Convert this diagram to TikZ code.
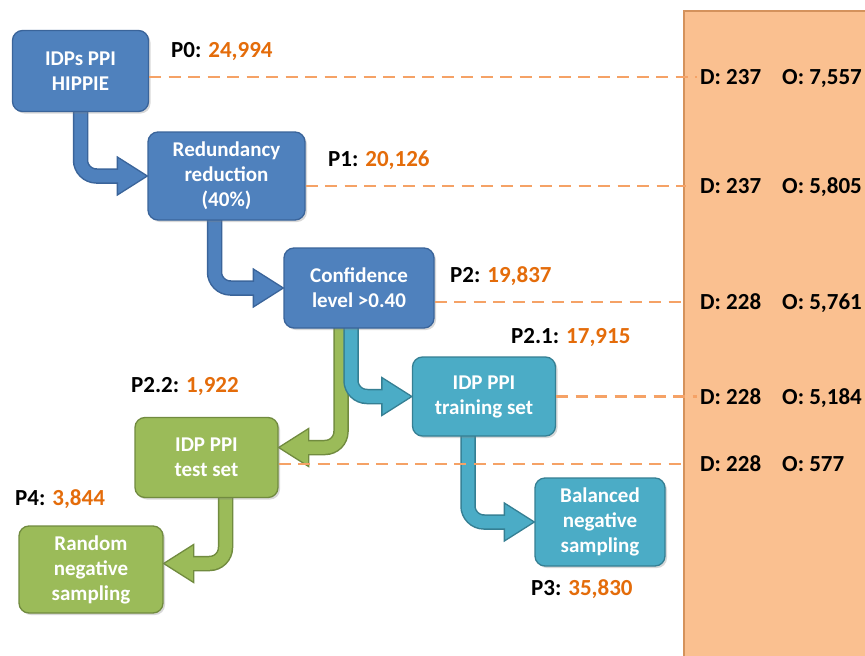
\documentclass[tikz,border=0pt]{standalone}
\usepackage{fontspec}
\setmainfont{Carlito}
\usetikzlibrary{shadows}
\definecolor{bfill}{HTML}{4F81BD}
\definecolor{bline}{HTML}{3A649A}
\definecolor{tfill}{HTML}{4BACC6}
\definecolor{tline}{HTML}{357F93}
\definecolor{gfill}{HTML}{9BBB59}
\definecolor{gline}{HTML}{718B3F}
\definecolor{numor}{HTML}{E46C0A}
\definecolor{dashcol}{HTML}{F5A266}
\definecolor{panelfill}{HTML}{FAC090}
\definecolor{panelline}{HTML}{D4925C}
\pgfdeclarelayer{bg}
\pgfsetlayers{bg,main}
\newcommand\bentarrow[5]{%
  \draw[line width=15.5pt, #2, rounded corners=16pt] (#3) |- ([xshift=#5]#4);
  \filldraw[fill=#1, draw=#2, line width=1.3pt, line join=miter]
    ([xshift=#5, yshift=19pt]#4) -- (#4) -- ([xshift=#5, yshift=-19pt]#4) -- cycle;
  \draw[line width=12.5pt, #1, rounded corners=16pt] (#3) |- ([xshift={0.88*(#5)}]#4);
}
\begin{document}
\begin{tikzpicture}[x=1pt,y=-1pt,
  box/.style={rounded corners=10pt, draw, line width=1.3pt, text=white,
    font=\fontsize{21}{25}\selectfont\bfseries, align=center, inner sep=0pt,
    drop shadow={opacity=0.3, shadow xshift=2pt, shadow yshift=-2pt}},
  bluebox/.style={box, fill=bfill, draw=bline},
  tealbox/.style={box, fill=tfill, draw=tline},
  greenbox/.style={box, fill=gfill, draw=gline},
  lbl/.style={font=\fontsize{23}{27}\selectfont\bfseries, inner sep=0pt, anchor=base west},
  rlbl/.style={font=\fontsize{23}{27}\selectfont\bfseries, inner sep=0pt, anchor=base west},
  dline/.style={draw=dashcol, line width=2.8pt, dash pattern=on 12pt off 7.5pt}]
\useasboundingbox (0,0) rectangle (865,656);
\coordinate (pl) at (684,0);
\coordinate (dx) at (700,0);
\coordinate (ox) at (782,0);

% boxes
\node[bluebox, minimum width=136pt, minimum height=81pt] (hippie) at (80.5,71) {IDPs PPI\\HIPPIE};
\node[bluebox, minimum width=157pt, minimum height=88pt] (redund) at (226.5,176) {Redundancy\\reduction\\(40\%)};
\node[bluebox, minimum width=150pt, minimum height=80pt] (conf) at (359,288) {Confidence\\level >0.40};
\node[tealbox, minimum width=143pt, minimum height=79pt] (train) at (484,396.5) {IDP PPI\\training set};
\node[greenbox, minimum width=143pt, minimum height=80pt] (test) at (206.5,457.5) {IDP PPI\\test set};
\node[tealbox, minimum width=130pt, minimum height=88pt] (bal) at (600,522) {Balanced\\negative\\sampling};
\node[greenbox, minimum width=144pt, minimum height=87pt] (rand) at (91,569.5) {Random\\negative\\sampling};

% arrow end points
\coordinate (s1) at ([yshift=3pt]hippie.south);
\coordinate (s2) at ([xshift=-12pt,yshift=3pt]redund.south);
\coordinate (s3) at ([xshift=-18pt,yshift=3pt]conf.south);
\coordinate (s4) at ([xshift=-8pt,yshift=3pt]conf.south);
\coordinate (s5) at ([xshift=-16pt,yshift=3pt]train.south);
\coordinate (s6) at ([xshift=19pt,yshift=3pt]test.south);
\coordinate (t3) at ([yshift=10pt]test.east);
\coordinate (t6) at ([yshift=6pt]rand.east);

% panel and arrows
\begin{pgfonlayer}{bg}
\begin{scope}
\clip (0,0) rectangle (865,656);
\fill[white] (0,0) rectangle (865,656);
\filldraw[fill=panelfill, draw=panelline, line width=1.5pt] (684,11) rectangle (900,700);
\end{scope}
\bentarrow{bfill}{bline}{s1}{redund.west}{-30pt}
\bentarrow{bfill}{bline}{s2}{conf.west}{-30pt}
\bentarrow{gfill}{gline}{s3}{t3}{30pt}
\bentarrow{tfill}{tline}{s4}{train.west}{-30pt}
\bentarrow{tfill}{tline}{s5}{bal.west}{-30pt}
\bentarrow{gfill}{gline}{s6}{t6}{30pt}
\end{pgfonlayer}

% dashed links
\coordinate (h0) at ([yshift=-6pt]hippie.east);
\coordinate (h1) at ([yshift=-10pt]redund.east);
\coordinate (h2) at ([yshift=-14pt]conf.east);
\coordinate (h3) at (train.east);
\coordinate (h4) at ([yshift=-6.5pt]test.east);
\draw[dline] (h0) -- ([xshift=-3pt]h0 -| dx);
\draw[dline] (h1) -- ([xshift=2pt]h1 -| pl);
\draw[dline] (h2) -- ([xshift=2pt]h2 -| pl);
\draw[dline] (h3) -- ([xshift=-3pt]h3 -| dx);
\draw[dline] (h4) -- ([xshift=2pt]h4 -| pl);

% right labels
\node[rlbl] (d0) at ([yshift=-7.5pt]h0 -| dx) {D: 237};
\node[rlbl] (o0) at ([yshift=-7.5pt]h0 -| ox) {O: 7,557};
\node[rlbl] (d1) at ([yshift=-7.5pt]h1 -| dx) {D: 237};
\node[rlbl] (o1) at ([yshift=-7.5pt]h1 -| ox) {O: 5,805};
\node[rlbl] (d2) at ([yshift=-7.5pt]h2 -| dx) {D: 228};
\node[rlbl] (o2) at ([yshift=-7.5pt]h2 -| ox) {O: 5,761};
\node[rlbl] (d3) at ([yshift=-7.5pt]h3 -| dx) {D: 228};
\node[rlbl] (o3) at ([yshift=-7.5pt]h3 -| ox) {O: 5,184};
\node[rlbl] (d4) at ([yshift=-7.5pt]h4 -| dx) {D: 228};
\node[rlbl] (o4) at ([yshift=-7.5pt]h4 -| ox) {O: 577};

% count labels
\node[lbl] (p0) at (171,57) {P0: \textcolor{numor}{24,994}};
\node[lbl] (p1) at (328,166) {P1: \textcolor{numor}{20,126}};
\node[lbl] (p2) at (450,282) {P2: \textcolor{numor}{19,837}};
\node[lbl] (p21) at (511,343) {P2.1: \textcolor{numor}{17,915}};
\node[lbl] (p22) at (131,392) {P2.2: \textcolor{numor}{1,922}};
\node[lbl] (p4) at (15,505) {P4: \textcolor{numor}{3,844}};
\node[lbl] (p3) at (531,595) {P3: \textcolor{numor}{35,830}};
\end{tikzpicture}
\end{document}
